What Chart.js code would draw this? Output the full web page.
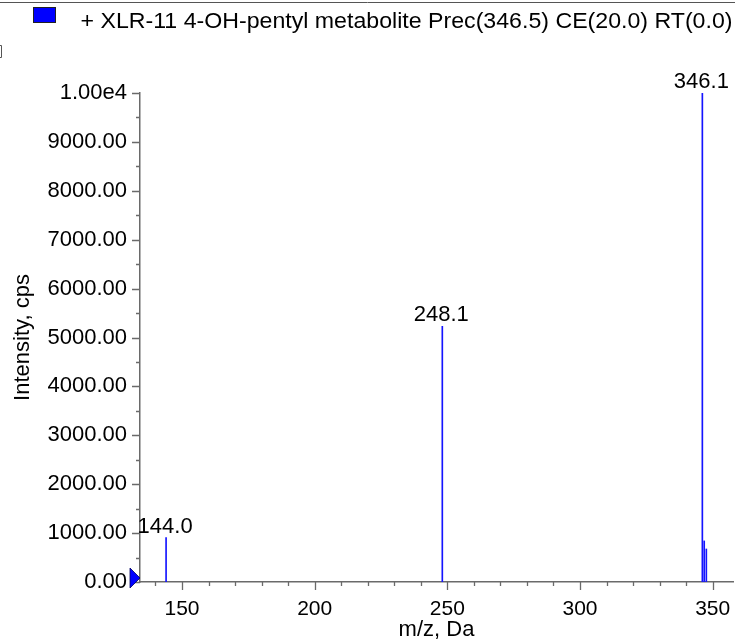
<!DOCTYPE html>
<html>
<head>
<meta charset="utf-8">
<script src="https://cdn.jsdelivr.net/npm/chart.js@4.4.1/dist/chart.umd.min.js"></script>
<style>
html,body{margin:0;padding:0;background:#fff;}
#wrap{width:735px;height:640px;}
</style>
</head>
<body>
<div id="wrap"><canvas id="c" width="735" height="640"></canvas></div>
<script>
// ---- data ----
const seriesLabel = '+ XLR-11 4-OH-pentyl metabolite Prec(346.5) CE(20.0) RT(0.0)';
const peakMz = [144.0, 248.1, 346.1, 346.8, 347.6];
const peakIntensity = [907, 5230, 10000, 840, 675];
const peakLabels = ['144.0', '248.1', '346.1', '', ''];
const xTicks = [150, 200, 250, 300, 350];
const xMinorStep = 10;
const xRange = [134.17, 357.65];
const yTicks = [0, 1000, 2000, 3000, 4000, 5000, 6000, 7000, 8000, 9000, 10000];
const yTickLabels = ['0.00', '1000.00', '2000.00', '3000.00', '4000.00', '5000.00', '6000.00', '7000.00', '8000.00', '9000.00', '1.00e4'];
const yMinorStep = 500;
const xTitle = 'm/z, Da';
const yTitle = 'Intensity, cps';

const FONT = '"Liberation Sans", Arial, sans-serif';
const AXIS_COLOR = '#6a6a6a';
const PEAK_COLOR = '#1414ff';

const decorPlugin = {
  id: 'decor',
  afterDraw(chart) {
    const ctx = chart.ctx;
    const xs = chart.scales.x, ys = chart.scales.y;
    const area = chart.chartArea;
    ctx.save();
    // top frame line
    ctx.strokeStyle = '#555';
    ctx.lineWidth = 1;
    ctx.beginPath(); ctx.moveTo(0, 2.5); ctx.lineTo(735, 2.5); ctx.stroke();
    // small bracket mark at left
    ctx.beginPath(); ctx.moveTo(0, 45.5); ctx.lineTo(1.5, 45.5); ctx.lineTo(1.5, 57.5); ctx.lineTo(0, 57.5); ctx.stroke();
    // legend swatch
    ctx.fillStyle = '#0000ff';
    ctx.fillRect(33, 7, 22, 15);
    ctx.strokeStyle = '#222';
    ctx.strokeRect(33.5, 7.5, 22, 15);
    // legend text
    ctx.fillStyle = '#000';
    ctx.font = '22px ' + FONT;
    ctx.textBaseline = 'alphabetic';
    ctx.textAlign = 'left';
    const w = ctx.measureText(seriesLabel).width;
    ctx.save();
    ctx.translate(80.5, 27.5);
    ctx.scale(652 / w, 1);
    ctx.fillText(seriesLabel, 0, 0);
    ctx.restore();

    // tick marks
    ctx.strokeStyle = AXIS_COLOR;
    ctx.lineWidth = 1.3;
    const y0 = area.bottom;
    ctx.beginPath();
    for (let v = Math.ceil(xRange[0] / xMinorStep) * xMinorStep; v <= xRange[1]; v += xMinorStep) {
      const px = Math.round(xs.getPixelForValue(v)) + 0.5;
      const len = xTicks.includes(v) ? 8 : 4;
      ctx.moveTo(px, y0); ctx.lineTo(px, y0 + len);
    }
    const x0 = area.left;
    for (let v = 0; v <= 10000; v += yMinorStep) {
      const py = Math.round(ys.getPixelForValue(v)) + 0.5;
      const len = yTicks.includes(v) ? 8 : 4;
      ctx.moveTo(x0, py); ctx.lineTo(x0 - len, py);
    }
    ctx.stroke();

    // blue marker at y=0
    const my = ys.getPixelForValue(0) - 4;
    ctx.fillStyle = '#0000ff';
    ctx.beginPath();
    ctx.moveTo(x0 - 10, my - 10);
    ctx.lineTo(x0, my);
    ctx.lineTo(x0 - 10, my + 10);
    ctx.closePath();
    ctx.fill();
    ctx.strokeStyle = '#000060';
    ctx.lineWidth = 0.8;
    ctx.stroke();

    // peak labels
    ctx.fillStyle = '#000';
    ctx.font = '22px ' + FONT;
    ctx.textAlign = 'center';
    ctx.textBaseline = 'alphabetic';
    peakMz.forEach((mz, i) => {
      if (!peakLabels[i]) return;
      const px = xs.getPixelForValue(mz);
      const py = ys.getPixelForValue(peakIntensity[i]);
      ctx.fillText(peakLabels[i], px - 1, py - 5);
    });
    ctx.restore();
  }
};

new Chart(document.getElementById('c'), {
  type: 'bar',
  data: {
    datasets: [{
      label: seriesLabel,
      data: peakMz.map((mz, i) => ({ x: mz, y: peakIntensity[i] })),
      backgroundColor: PEAK_COLOR,
      borderWidth: 0,
      barThickness: 1,
      grouped: false
    }]
  },
  options: {
    responsive: false,
    devicePixelRatio: 1,
    animation: false,
    layout: { padding: { left: 0, right: 2, top: 93, bottom: 0 } },
    plugins: { legend: { display: false }, title: { display: false }, tooltip: { enabled: false } },
    scales: {
      x: {
        type: 'linear',
        min: xRange[0],
        max: xRange[1],
        offset: false,
        afterBuildTicks: s => { s.ticks = xTicks.map(v => ({ value: v })); },
        afterFit: s => { s.height = 58; s.paddingLeft = 0; s.paddingRight = 0; },
        grid: { display: false, drawTicks: false },
        border: { display: true, color: AXIS_COLOR, width: 1.5 },
        ticks: { color: '#000', font: { family: FONT, size: 21 }, padding: 15, maxRotation: 0, autoSkip: false, callback: v => String(v) },
        title: { display: true, text: xTitle, color: '#000', font: { family: FONT, size: 22, lineHeight: 1.0 }, padding: { top: 0, bottom: -1 } }
      },
      y: {
        type: 'linear',
        min: 0,
        max: 10000,
        afterBuildTicks: s => { s.ticks = yTicks.map(v => ({ value: v })); },
        afterFit: s => { s.width = 140; s.paddingTop = 0; s.paddingBottom = 0; },
        grid: { display: false, drawTicks: false },
        border: { display: true, color: AXIS_COLOR, width: 1.5 },
        ticks: { color: '#000', font: { family: FONT, size: 22 }, padding: 13, autoSkip: false, callback: (v, i) => yTickLabels[i] },
        title: { display: true, text: yTitle, color: '#000', font: { family: FONT, size: 22, lineHeight: 1.0 }, padding: { top: 12, bottom: 0 } }
      }
    }
  },
  plugins: [decorPlugin]
});
</script>
</body>
</html>
